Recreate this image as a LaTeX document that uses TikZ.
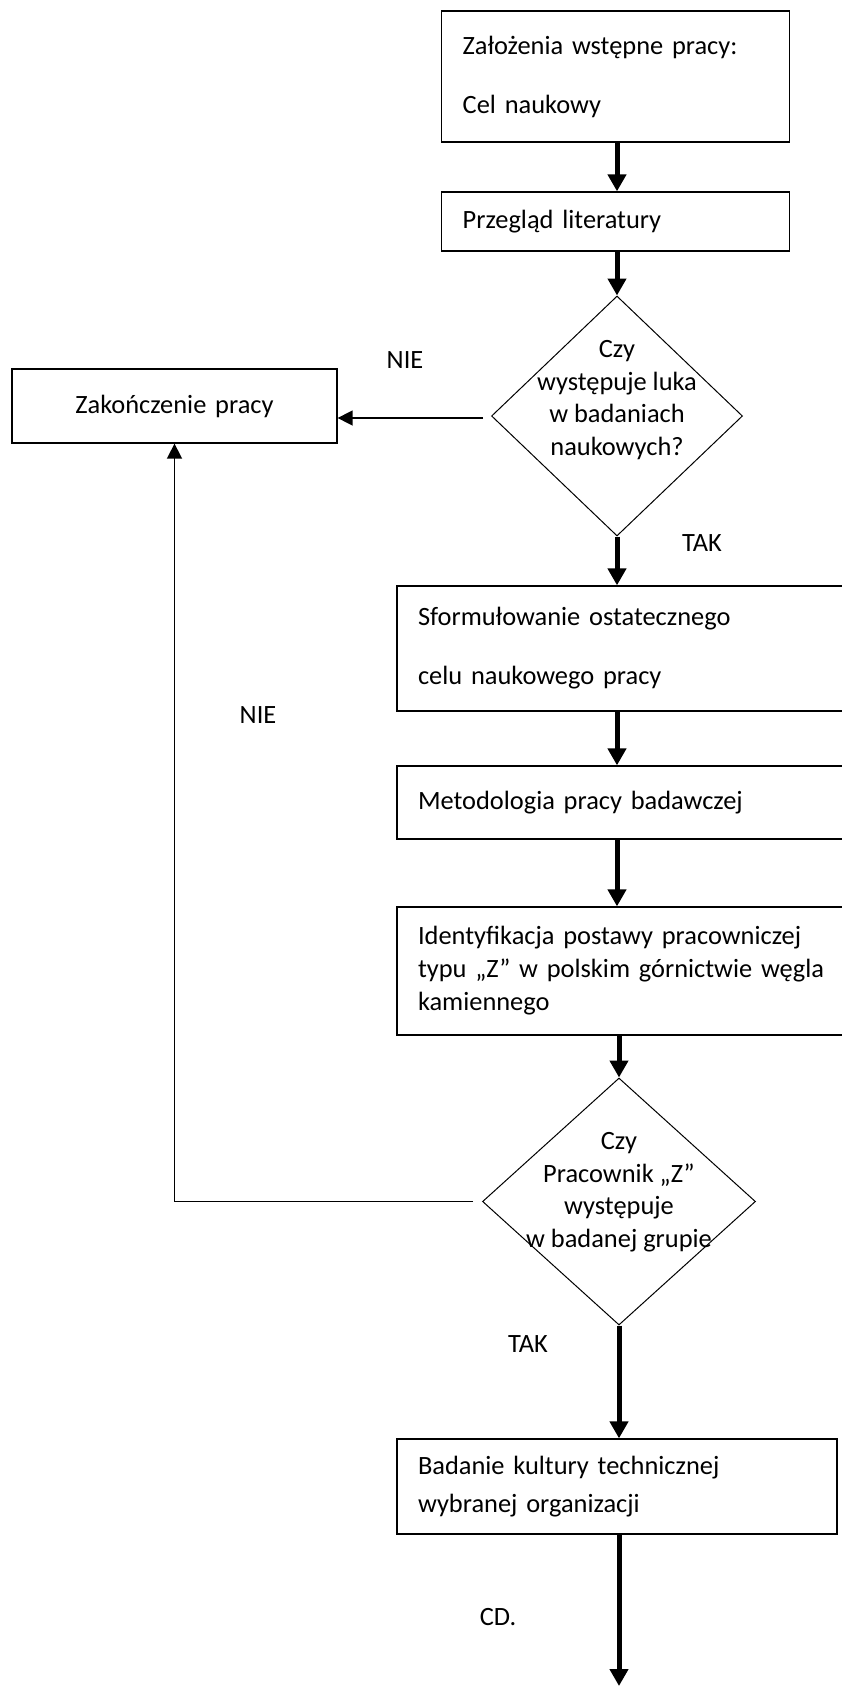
\documentclass[tikz,border=0pt]{standalone}
\usepackage{fontspec}
\setmainfont{Carlito}
\usetikzlibrary{shapes.geometric,arrows.meta}
\tikzstyle{box} = [rectangle, draw=black, line width=1.3pt, align=left, inner xsep=21pt, inner ysep=0pt, font=\fontsize{26.4}{33}\selectfont]
\tikzstyle{decision} = [diamond, draw=black, line width=1pt, inner sep=0pt]
\tikzstyle{question} = [align=center, font=\fontsize{26.4}{32.5}\selectfont]
\tikzstyle{answer} = [font=\fontsize{26.4}{30}\selectfont]
\tikzstyle{thickarrow} = [line width=5pt, -{Triangle[length=17pt,width=18pt]}]
\tikzstyle{thinarrow} = [line width=1.6pt, -{Triangle[length=15pt,width=15pt]}]

\begin{document}
\begin{tikzpicture}[x=1pt,y=-1pt]
                        \useasboundingbox (0,0) rectangle (842,1686);
                        \node[box, minimum width=347.6pt, minimum height=131pt, text width=305.6pt]
                            (zal) at (615.5,76.5) {Założenia wstępne pracy:\\[26pt]Cel naukowy};
                        \node[box, minimum width=347.6pt, minimum height=59pt, text width=305.6pt]
                            (przeg) at (615.5,221.5) {Przegląd literatury};
                        \node[decision, minimum width=251pt, minimum height=240pt]
                            (d1) at (617,416) {};
                        \node[question] (d1t) at (617,400) {Czy\\występuje luka\\w badaniach\\naukowych?};
                        \node[box, align=center, minimum width=325pt, minimum height=74pt, text width=283pt]
                            (zak) at (174.5,406) {Zakończenie pracy};
                        \node[box, minimum width=463pt, minimum height=125pt, text width=421pt]
                            (sform) at (628.5,648.5) {Sformułowanie ostatecznego\\[26pt]celu naukowego pracy};
                        \node[box, minimum width=463pt, minimum height=73pt, text width=421pt]
                            (metod) at (628.5,802.5) {Metodologia pracy badawczej};
                        \node[box, minimum width=463pt, minimum height=128pt, text width=421pt]
                            (ident) at (628.5,971) {Identyfikacja postawy pracowniczej\\typu „Z” w polskim górnictwie węgla\\kamiennego};
                        \node[decision, minimum width=273pt, minimum height=247pt]
                            (d2) at (619,1201.5) {};
                        \node[question] (d2t) at (619,1192) {Czy\\Pracownik „Z”\\występuje\\w badanej grupie};
                        \node[box, minimum width=440pt, minimum height=95pt, text width=398pt]
                            (badanie) at (617,1486.5) {Badanie kultury technicznej\\[5pt]wybranej organizacji};
                        \coordinate (koniec) at (619,1686);
                        % odpowiedzi
                        \node[answer] (nie1) at (405,360) {NIE};
                        \node[answer] (tak1) at (702,543) {TAK};
                        \node[answer] (nie2) at (258,715) {NIE};
                        \node[answer] (tak2) at (528,1344) {TAK};
                        \node[answer] (cd) at (498,1617) {CD.};
                        % strzalki
                        \draw[thickarrow] (zal.south -| d1) -- (przeg.north -| d1);
                        \draw[thickarrow] (przeg.south -| d1) -- (d1.north);
                        \draw[thinarrow] ([xshift=-8pt,yshift=-2pt]d1.west) -- ([yshift=-2pt]d1.west -| zak.east);
                        \draw[thickarrow] (d1.south) -- (sform.north -| d1);
                        \draw[thickarrow] (sform.south -| d1) -- (metod.north -| d1);
                        \draw[thickarrow] (metod.south -| d1) -- (ident.north -| d1);
                        \draw[thickarrow] (ident.south -| d2) -- (d2.north);
                        \draw[thinarrow] ([xshift=-9pt]d2.west) -| (zak.south);
                        \draw[thickarrow] (d2.south) -- (badanie.north -| d2);
                        \draw[thickarrow] (badanie.south -| d2) -- (koniec);
                    \end{tikzpicture}
\end{document}
